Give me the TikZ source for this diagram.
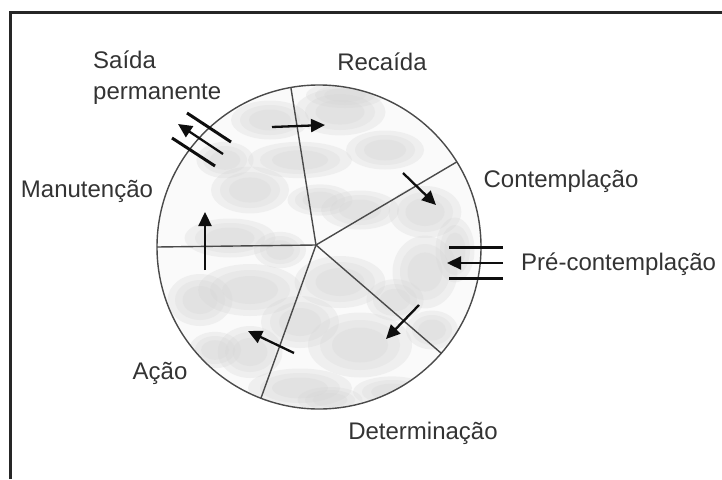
\documentclass[tikz,border=0pt]{standalone}
\usepackage{fontspec}
\setmainfont{Liberation Sans}
\usepackage{xcolor}
\definecolor{cInk}{HTML}{0E0E0E}
\definecolor{cLine}{HTML}{4A4A4A}
\definecolor{cText}{HTML}{333333}
\definecolor{cCloud}{HTML}{D6D6D6}
\definecolor{cFrame}{HTML}{262626}
\usepackage{tikz}
\usetikzlibrary{arrows.meta,calc}
\tikzset{
  stage-label/.style={text=cText,inner sep=0pt,font=\fontsize{24}{31}\selectfont},
  wheel/.style={draw=cLine,line width=1.4pt},
  spoke/.style={draw=cLine,line width=1.4pt},
  cloud/.style={fill=cCloud,draw=none,opacity=.28},
  arrow/.style={-{Triangle[length=14pt,width=13pt]},line width=2.3pt,draw=cInk},
  barrier/.style={draw=cInk,line width=3pt},
  frame-line/.style={draw=cFrame,line width=3pt},
}

\begin{document}
\begin{tikzpicture}[x=1pt,y=-1pt]
  \useasboundingbox (0,0) rectangle (722,479);
  \draw[frame-line] (10,479) -- (10,12) -- (722,12);
  \coordinate (o) at (319,247);
  \coordinate (hub) at (316,245);
  % disco com manchas
  \begin{scope}
    \clip (o) circle[radius=162];
    \fill[black!2] (o) circle[radius=162];
    \foreach \cx/\cy/\rx/\ry in {270/120/30/15,340/112/35/18,300/160/40/14,
      250/190/30/18,385/150/30/15,425/212/28/20,360/210/30/15,230/238/35/15,
      250/290/40/20,340/282/35/20,425/272/25/28,300/322/30/20,360/345/40/25,
      250/352/25/20,300/388/40/15,432/330/20/15,200/300/25/20,392/392/30/12,
      225/160/22/14,320/200/25/12,280/250/20/14,395/300/22/16,215/350/20/14,
      345/95/30/10,455/250/15/25,330/400/25/10}
      \foreach \k in {1.3,1,.7}
        \fill[cloud] (\cx,\cy) ellipse[x radius=\k*\rx,y radius=\k*\ry];
  \end{scope}
  \draw[wheel] (o) circle[radius=162];
  \foreach \a/\n in {180/m,100/r,31.7/c,-41/d,-111/a}
    \coordinate (e\n) at ($(o)+(\a:162pt)$);
  \foreach \n in {m,r,c,d,a}
    \draw[spoke] (hub) -- (e\n);

  \node[stage-label,align=left,anchor=north west] (sp) at (93,51) {Saída\\permanente};
  \node[stage-label,anchor=base] (rc) at (382,70) {Recaída};
  \node[stage-label,anchor=base] (ct) at (561,187) {Contemplação};
  \node[stage-label,anchor=base west] (pc) at (521,270) {Pré-contemplação};
  \node[stage-label,anchor=base] (dt) at (423,439) {Determinação};
  \node[stage-label,anchor=base] (ac) at (160,379) {Ação};
  \node[stage-label,anchor=base] (mt) at (87,197) {Manutenção};

  \coordinate (r1) at (272,127); \coordinate (r2) at (325,125);
  \coordinate (c1) at (403,173); \coordinate (c2) at (436,205);
  \coordinate (d1) at (419,305); \coordinate (d2) at (386,339);
  \coordinate (a1) at (294,353); \coordinate (a2) at (248,331);
  \coordinate (m1) at (205,270); \coordinate (m2) at (205,212);
  \coordinate (s1) at (223,154); \coordinate (s2) at (178,124);
  \coordinate (p1) at (503,263); \coordinate (p2) at (447,263);
  \draw[arrow] (r1) -- (r2);
  \draw[arrow] (c1) -- (c2);
  \draw[arrow] (d1) -- (d2);
  \draw[arrow] (a1) -- (a2);
  \draw[arrow] (m1) -- (m2);
  \draw[arrow] (s1) -- (s2);
  \draw[arrow] (p1) -- (p2);

  % barreiras
  \coordinate (sa1) at (187,113); \coordinate (sa2) at (231,142);
  \coordinate (sc1) at (172,138); \coordinate (sc2) at (215,166);
  \coordinate (pa1) at (449,247); \coordinate (pa2) at (503,247);
  \coordinate (pb1) at (449,278); \coordinate (pb2) at (503,278);
  \draw[barrier] (sa1) -- (sa2);
  \draw[barrier] (sc1) -- (sc2);
  \draw[barrier] (pa1) -- (pa2);
  \draw[barrier] (pb1) -- (pb2);
\end{tikzpicture}
\end{document}
